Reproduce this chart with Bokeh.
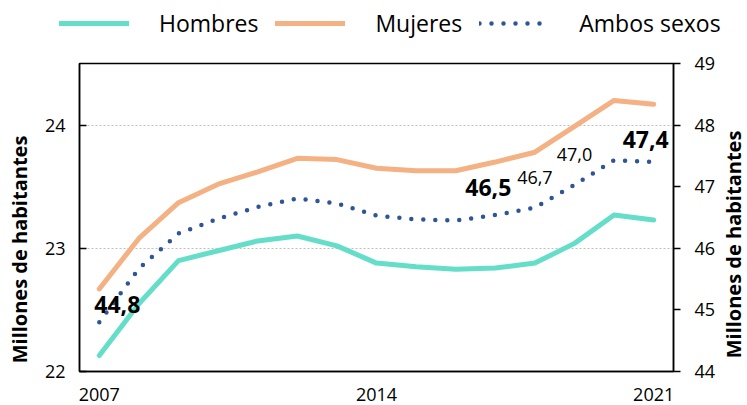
import math
from bokeh.plotting import figure
from bokeh.layouts import column, row
from bokeh.models import (ColumnDataSource, Range1d, LinearAxis, FixedTicker,
                          Legend, LegendItem, LabelSet, Label)
from bokeh.embed import file_html
from bokeh.resources import INLINE
from bokeh.core.properties import value

# ---------------- data ----------------
years = list(range(2007, 2022))
hombres = [22.13, 22.55, 22.90, 22.98, 23.06, 23.10, 23.02, 22.88, 22.85, 22.83,
           22.84, 22.88, 23.04, 23.27, 23.23]
mujeres = [22.67, 23.08, 23.37, 23.52, 23.62, 23.73, 23.72, 23.65, 23.63, 23.63,
           23.70, 23.78, 23.99, 24.20, 24.17]
ambos = [44.80, 45.67, 46.24, 46.48, 46.67, 46.81, 46.73, 46.53, 46.47, 46.45,
         46.54, 46.66, 47.03, 47.43, 47.40]
x_ticks = [2007, 2014, 2021]
left_ticks = [22, 23, 24]
right_ticks = [44, 45, 46, 47, 48, 49]
series_names = ["Hombres", "Mujeres", "Ambos sexos"]
axis_title = "Millones de habitantes"
bold_label_years = [2007, 2017, 2021]
plain_label_years = [2018, 2019]

# ---------------- styles ----------------
FONT = "Open Sans"
C_H = "#64DEC8"
C_M = "#F4B183"
C_A = "#2F5597"
bold_dx = [18, -7, -8]
bold_dy = [9, 19, 14]
plain_dx = [0, 0]
plain_dy = [24, 24]
line_styles = [dict(line_color=C_H, line_width=5, line_cap="round"),
               dict(line_color=C_M, line_width=5, line_cap="round"),
               dict(line_color=C_A, line_width=4.5, line_dash="0 12",
                    line_cap="round")]
LEG_H = 46
MAIN_H = 359


def fmt(v):
    return f"{v:.1f}".replace(".", ",")


def strip(width, height):
    f = figure(width=width, height=height, output_backend="svg",
               toolbar_location=None, x_axis_type=None, y_axis_type=None,
               x_range=Range1d(0, 1), y_range=Range1d(0, 1), min_border=0)
    f.grid.visible = False
    f.outline_line_color = None
    f.background_fill_color = "white"
    f.border_fill_color = "white"
    return f


# ---------------- legend strip ----------------
lg = strip(747, LEG_H)
series = [hombres, mujeres, ambos]
keys = [lg.line(x=years, y=s, **st) for s, st in zip(series, line_styles)]
legend = Legend(items=[LegendItem(label=n, renderers=[r])
                       for n, r in zip(series_names, keys)],
                orientation="horizontal", location=(59, 7),
                glyph_width=70, glyph_height=20, label_standoff=30, spacing=17,
                padding=0, margin=0, border_line_color=None,
                background_fill_alpha=0, label_text_font=FONT,
                label_text_font_size="23px", label_text_color="black")
lg.add_layout(legend, "center")

# ---------------- side title strips ----------------
lt = strip(34, MAIN_H)
lt.add_layout(Label(x=19, y=122, x_units="screen", y_units="screen",
                    text=axis_title, angle=math.pi / 2, text_align="center",
                    text_baseline="middle", text_font=FONT,
                    text_font_size="20px", text_font_style="bold",
                    text_color="black"))
rt = strip(28, MAIN_H)
rt.add_layout(Label(x=14, y=127, x_units="screen", y_units="screen",
                    text=axis_title, angle=math.pi / 2, text_align="center",
                    text_baseline="middle", text_font=FONT,
                    text_font_size="20px", text_font_style="bold",
                    text_color="black"))

# ---------------- main chart ----------------
p = figure(width=685, height=MAIN_H, output_backend="svg", toolbar_location=None,
           x_range=Range1d(2006.5, 2021.5), y_range=Range1d(22, 24.5),
           min_border_left=45, min_border_right=46, min_border_top=17,
           min_border_bottom=34)
p.extra_y_ranges = {"right": Range1d(44, 49)}
p.background_fill_color = "white"
p.border_fill_color = "white"
p.outline_line_color = "black"
p.outline_line_width = 1.5

p.xgrid.visible = False
p.ygrid.ticker = FixedTicker(ticks=left_ticks)
p.ygrid.grid_line_color = "#BFBFBF"
p.ygrid.grid_line_dash = "2 2"
p.ygrid.grid_line_width = 1

xa = p.xaxis[0]
xa.ticker = FixedTicker(ticks=x_ticks)
xa.major_label_overrides = {t: str(t) for t in x_ticks}
xa.major_tick_in = 0
xa.major_tick_out = 0
xa.minor_tick_line_color = None
xa.axis_line_color = "black"
xa.axis_line_width = 1.5
xa.major_label_standoff = 16
xa.major_label_text_font = FONT
xa.major_label_text_font_size = "18px"
xa.major_label_text_color = "black"

ya = p.yaxis[0]
ya.ticker = FixedTicker(ticks=left_ticks)
ya.major_tick_in = 7
ya.major_tick_out = 0
ya.major_tick_line_width = 1.5
ya.minor_tick_line_color = None
ya.axis_line_color = "black"
ya.axis_line_width = 1.5
ya.major_label_standoff = 14
ya.major_label_text_font = FONT
ya.major_label_text_font_size = "18px"
ya.major_label_text_color = "black"

ra = LinearAxis(y_range_name="right", ticker=FixedTicker(ticks=right_ticks))
ra.major_tick_in = 0
ra.major_tick_out = 7
ra.major_tick_line_width = 1.5
ra.minor_tick_line_color = None
ra.axis_line_color = "black"
ra.axis_line_width = 1.5
ra.major_label_standoff = 14
ra.major_label_text_font = FONT
ra.major_label_text_font_size = "18px"
ra.major_label_text_color = "black"
p.add_layout(ra, "right")

src = ColumnDataSource(dict(year=years, h=hombres, m=mujeres, a=ambos))
p.line("year", "h", source=src, line_join="round", **line_styles[0])
p.line("year", "m", source=src, line_join="round", **line_styles[1])
p.line("year", "a", source=src, y_range_name="right", **line_styles[2])

amb = dict(zip(years, ambos))
bsrc = ColumnDataSource(dict(x=bold_label_years,
                             y=[amb[y] for y in bold_label_years],
                             t=[fmt(amb[y]) for y in bold_label_years],
                             dx=bold_dx, dy=bold_dy))
psrc = ColumnDataSource(dict(x=plain_label_years,
                             y=[amb[y] for y in plain_label_years],
                             t=[fmt(amb[y]) for y in plain_label_years],
                             dx=plain_dx, dy=plain_dy))
p.add_layout(LabelSet(x="x", y="y", text="t", source=bsrc, y_range_name="right",
                      x_offset="dx", y_offset="dy", text_align="center",
                      text_baseline="alphabetic", text_font=value(FONT),
                      text_font_size="23px", text_font_style="bold",
                      text_color="black"))
p.add_layout(LabelSet(x="x", y="y", text="t", source=psrc, y_range_name="right",
                      x_offset="dx", y_offset="dy", text_align="center",
                      text_baseline="alphabetic", text_font=value(FONT),
                      text_font_size="18px", text_color="black"))

layout = column(lg, row(lt, p, rt, spacing=0), spacing=0)
open("out.html", "w").write(file_html(layout, INLINE))
